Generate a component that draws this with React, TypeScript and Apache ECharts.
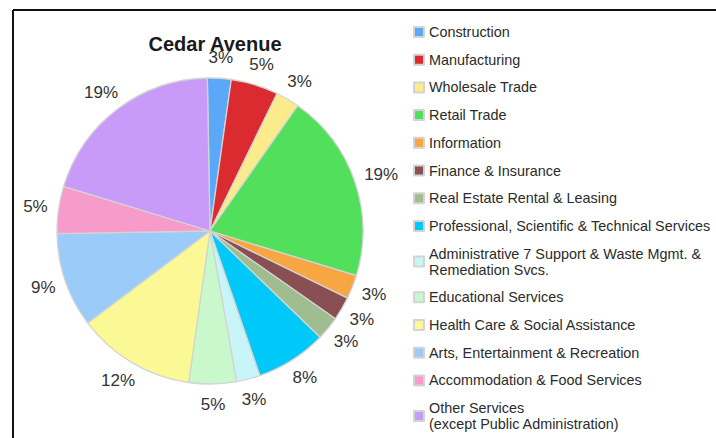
import React, { useEffect, useRef } from 'react';
import * as echarts from 'echarts';

const title = 'Cedar Avenue';

const categories = [
  'Construction',
  'Manufacturing',
  'Wholesale Trade',
  'Retail Trade',
  'Information',
  'Finance & Insurance',
  'Real Estate Rental & Leasing',
  'Professional, Scientific & Technical Services',
  'Administrative 7 Support & Waste Mgmt. & Remediation Svcs.',
  'Educational Services',
  'Health Care & Social Assistance',
  'Arts, Entertainment & Recreation',
  'Accommodation & Food Services',
  'Other Services (except Public Administration)',
];

const legendLabels = [
  'Construction',
  'Manufacturing',
  'Wholesale Trade',
  'Retail Trade',
  'Information',
  'Finance & Insurance',
  'Real Estate Rental & Leasing',
  'Professional, Scientific & Technical Services',
  'Administrative 7 Support & Waste Mgmt. &\nRemediation Svcs.',
  'Educational Services',
  'Health Care & Social Assistance',
  'Arts, Entertainment & Recreation',
  'Accommodation & Food Services',
  'Other Services\n(except Public Administration)',
];

// slice sizes (counts of establishments)
const counts = [1, 2, 1, 8, 1, 1, 1, 3, 1, 2, 5, 4, 2, 8];

// percentage labels as printed on the chart
const percentLabels = [3, 5, 3, 19, 3, 3, 3, 8, 3, 5, 12, 9, 5, 19];

const colors = [
  '#5ba8f8',
  '#dc2b30',
  '#fbeb8c',
  '#52e05c',
  '#f8a642',
  '#8a4f52',
  '#9fbd8e',
  '#00c8f8',
  '#c8f6f8',
  '#c8f8cc',
  '#fbf995',
  '#9bcbf8',
  '#f79bcb',
  '#c89bf8',
];

const PIE_CX = 210;
const PIE_CY = 231;

export default function App() {
  const ref = useRef<HTMLDivElement>(null);
  useEffect(() => {
    if (!ref.current) return;
    const chart = echarts.init(ref.current, null, { renderer: 'svg' });
    const labelMap: Record<string, string> = {};
    categories.forEach((c, i) => (labelMap[c] = legendLabels[i]));
    const data = categories.map((name, i) => ({
      name,
      value: counts[i],
      itemStyle: { color: colors[i] },
    }));
    chart.setOption({
      animation: false,
      backgroundColor: '#ffffff',
      title: {
        text: title,
        left: 215,
        top: 36,
        textAlign: 'center',
        padding: 0,
        textStyle: {
          fontFamily: 'Liberation Sans, Arial, sans-serif',
          fontSize: 20,
          lineHeight: 16,
          fontWeight: 'bold',
          color: '#1a1a1a',
        },
      },
      legend: {
        orient: 'vertical',
        left: 413,
        top: 25,
        height: 600,
        padding: 0,
        itemWidth: 10,
        itemHeight: 10,
        itemGap: 13.7,
        icon: 'rect',
        data: categories,
        selectedMode: false,
        formatter: (name: string) => labelMap[name] ?? name,
        textStyle: {
          fontFamily: 'Liberation Sans, Arial, sans-serif',
          fontSize: 14.4,
          lineHeight: 16,
          color: '#2b2b2b',
          verticalAlign: 'top',
          padding: [-8, 0, 0, 0],
        },
      },
      graphic: [
        {
          type: 'line',
          shape: { x1: 13, y1: 10, x2: 716, y2: 10 },
          style: { stroke: '#111111', lineWidth: 2 },
        },
        {
          type: 'line',
          shape: { x1: 13, y1: 10, x2: 13, y2: 438 },
          style: { stroke: '#111111', lineWidth: 2 },
        },
      ],
      series: [
        {
          type: 'pie',
          center: [PIE_CX, PIE_CY],
          radius: [0, 153],
          startAngle: 91,
          clockwise: true,
          silent: true,
          label: { show: false },
          labelLine: { show: false },
          itemStyle: { borderColor: '#d4d4d4', borderWidth: 1.3 },
          data,
        },
        {
          type: 'pie',
          center: [PIE_CX, PIE_CY],
          radius: [156, 166],
          startAngle: 91,
          clockwise: true,
          silent: true,
          itemStyle: { color: 'rgba(0,0,0,0)', borderWidth: 0 },
          label: {
            show: true,
            position: 'inside',
            formatter: (p: any) => percentLabels[p.dataIndex] + '%',
            fontFamily: 'Liberation Sans, Arial, sans-serif',
            fontSize: 17,
            lineHeight: 14,
            color: '#333333',
          },
          labelLayout: (params: any) => {
            const r = params.labelRect;
            const mx = r.x + r.width / 2 - PIE_CX;
            const my = r.y + r.height / 2 - PIE_CY;
            const d = Math.sqrt(mx * mx + my * my) || 1;
            return {
              dx: (mx / d) * (r.width / 2),
              dy: (my / d) * 10,
            };
          },
          labelLine: { show: false },
          data: categories.map((name, i) => ({
            name,
            value: counts[i],
            itemStyle: { color: 'rgba(0,0,0,0)' },
          })),
        },
      ],
    });
    return () => chart.dispose();
  }, []);
  return (
    <div
      ref={ref}
      style={{ position: 'fixed', left: 0, top: 0, width: 716, height: 438 }}
    />
  );
}
